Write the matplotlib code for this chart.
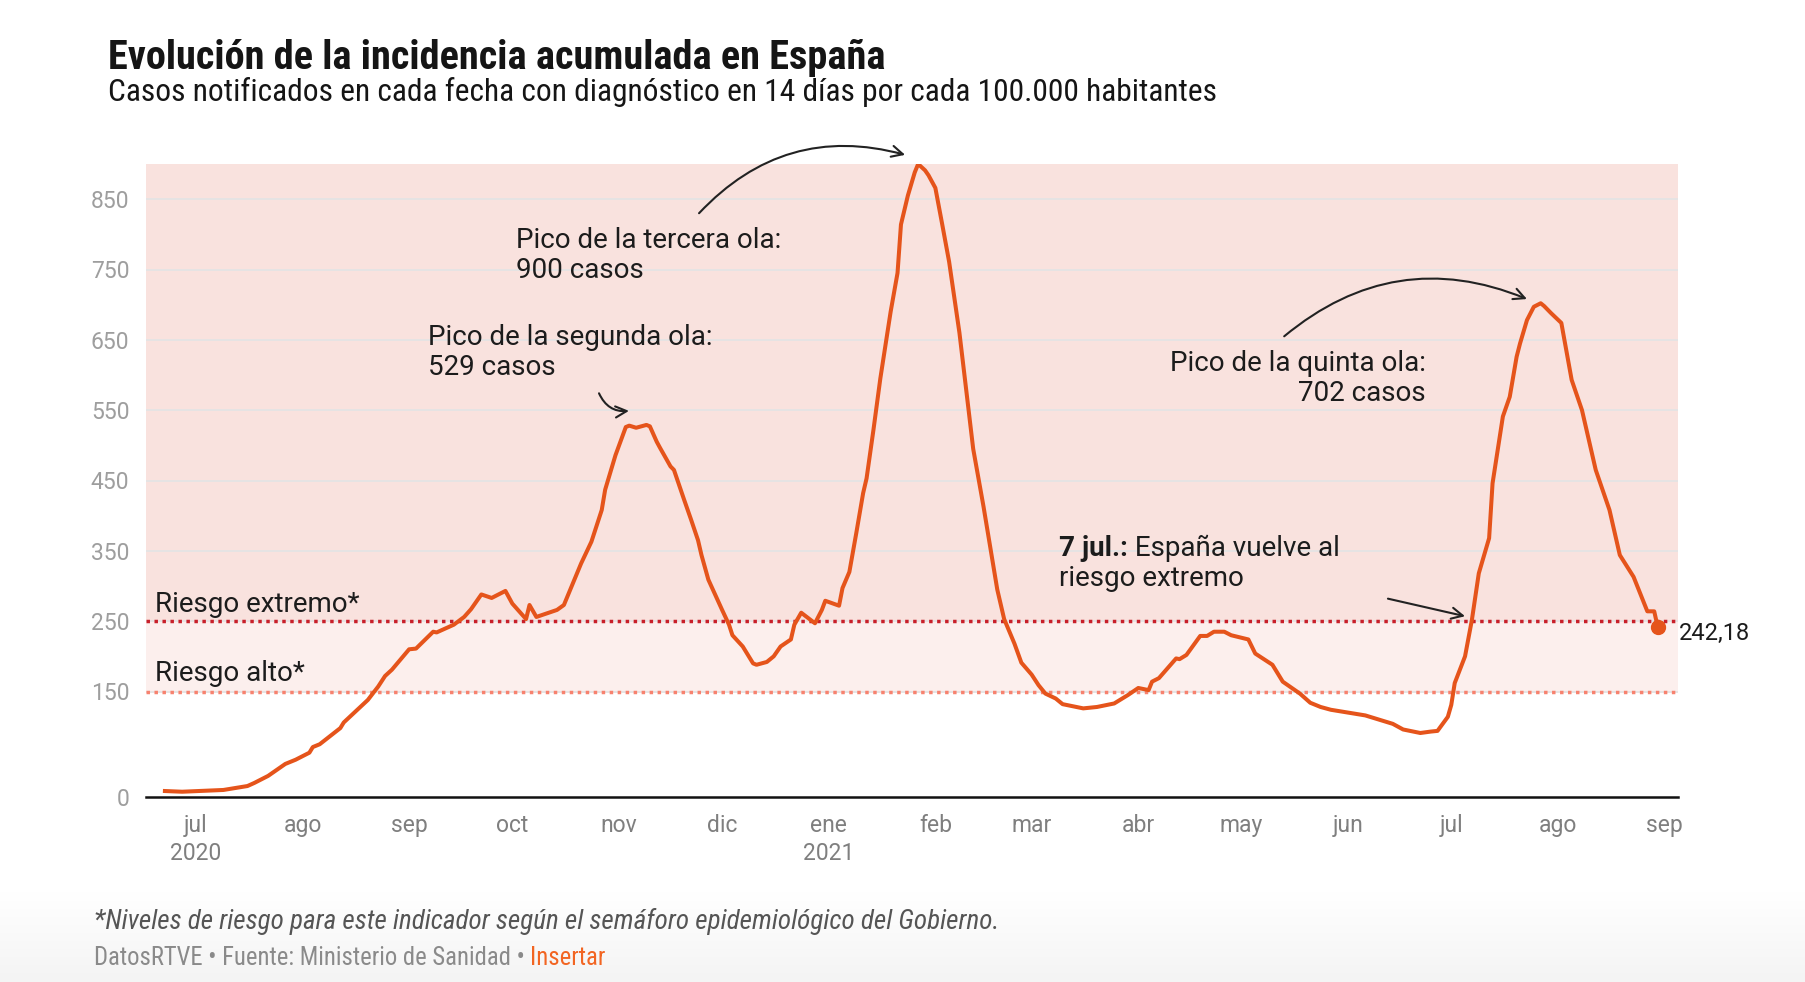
import matplotlib
matplotlib.use("Agg")
import matplotlib.pyplot as plt
import numpy as np
import pandas as pd
from matplotlib import font_manager as fm

# 14-day cumulative incidence per 100.000 inhabitants
dates = [
    "2020-06-22", "2020-06-27", "2020-07-09", "2020-07-16", "2020-07-18", "2020-07-22",
    "2020-07-27", "2020-07-30", "2020-08-01", "2020-08-03", "2020-08-04", "2020-08-06",
    "2020-08-12", "2020-08-13", "2020-08-20", "2020-08-23", "2020-08-25", "2020-08-27",
    "2020-09-01", "2020-09-03", "2020-09-08", "2020-09-09", "2020-09-14", "2020-09-17",
    "2020-09-19", "2020-09-22", "2020-09-25", "2020-09-29", "2020-10-01", "2020-10-05",
    "2020-10-06", "2020-10-08", "2020-10-14", "2020-10-16", "2020-10-21", "2020-10-24",
    "2020-10-27", "2020-10-28", "2020-10-31", "2020-11-03", "2020-11-04", "2020-11-06",
    "2020-11-09", "2020-11-10", "2020-11-12", "2020-11-13", "2020-11-16", "2020-11-17",
    "2020-11-20", "2020-11-22", "2020-11-24", "2020-11-25", "2020-11-27", "2020-12-01",
    "2020-12-03", "2020-12-04", "2020-12-07", "2020-12-10", "2020-12-11", "2020-12-14",
    "2020-12-16", "2020-12-18", "2020-12-21", "2020-12-22", "2020-12-24", "2020-12-28",
    "2020-12-30", "2020-12-31", "2021-01-04", "2021-01-05", "2021-01-07", "2021-01-09",
    "2021-01-11", "2021-01-12", "2021-01-14", "2021-01-16", "2021-01-19", "2021-01-21",
    "2021-01-22", "2021-01-24", "2021-01-26", "2021-01-27", "2021-01-29", "2021-01-30",
    "2021-02-01", "2021-02-03", "2021-02-05", "2021-02-08", "2021-02-10", "2021-02-12",
    "2021-02-15", "2021-02-17", "2021-02-19", "2021-02-21", "2021-02-24", "2021-02-26",
    "2021-03-01", "2021-03-03", "2021-03-05", "2021-03-08", "2021-03-10", "2021-03-16",
    "2021-03-20", "2021-03-25", "2021-03-29", "2021-04-01", "2021-04-04", "2021-04-05",
    "2021-04-07", "2021-04-12", "2021-04-13", "2021-04-15", "2021-04-19", "2021-04-21",
    "2021-04-23", "2021-04-26", "2021-04-28", "2021-05-03", "2021-05-05", "2021-05-10",
    "2021-05-13", "2021-05-18", "2021-05-21", "2021-05-24", "2021-05-27", "2021-06-01",
    "2021-06-06", "2021-06-10", "2021-06-14", "2021-06-17", "2021-06-22", "2021-06-25",
    "2021-06-27", "2021-06-30", "2021-07-01", "2021-07-02", "2021-07-05", "2021-07-07",
    "2021-07-09", "2021-07-12", "2021-07-13", "2021-07-16", "2021-07-18", "2021-07-20",
    "2021-07-21", "2021-07-23", "2021-07-25", "2021-07-27", "2021-07-28", "2021-07-30",
    "2021-08-02", "2021-08-05", "2021-08-08", "2021-08-12", "2021-08-16", "2021-08-19",
    "2021-08-23", "2021-08-27", "2021-08-29", "2021-08-30",
]
incidence = [
    8.5, 7.5, 10, 15.6, 20, 30,
    47, 53, 58, 63, 71, 75,
    98, 106, 138, 157, 172, 181,
    210, 211, 235, 234, 245, 256,
    267, 288, 283, 293, 275, 253,
    273, 256, 266, 273, 332, 363,
    408, 437, 486, 526, 528, 525,
    529, 527, 505, 496, 470, 465,
    422, 394, 365, 344, 309, 266,
    245, 230, 214, 190, 188, 192,
    200, 214, 224, 245, 262, 247,
    266, 279, 272, 297, 320, 375,
    432, 453, 522, 595, 690, 745,
    814, 855, 888, 900, 891, 884,
    866, 814, 761, 660, 578, 495,
    413, 354, 295, 253, 218, 191,
    174, 159, 147, 140, 132, 126,
    128, 133, 145, 155, 152, 164,
    169, 197, 196, 202, 229, 229,
    235, 235, 230, 224, 204, 188,
    164, 147, 134, 128, 124, 120,
    116, 110, 104, 96, 91, 93,
    94, 114, 131, 162, 200, 252,
    318, 368, 446, 541, 569, 626,
    645, 678, 697, 702, 698, 688,
    674, 593, 550, 465, 408, 344,
    313, 264, 264, 242.18,
]

y_ticks = [0, 150, 250, 350, 450, 550, 650, 750, 850]
month_ticks = ["2020-07-01", "2020-08-01", "2020-09-01", "2020-10-01", "2020-11-01",
               "2020-12-01", "2021-01-01", "2021-02-01", "2021-03-01", "2021-04-01",
               "2021-05-01", "2021-06-01", "2021-07-01", "2021-08-01", "2021-09-01"]
month_labels = ["jul\n2020", "ago", "sep", "oct", "nov", "dic", "ene\n2021", "feb",
                "mar", "abr", "may", "jun", "jul", "ago", "sep"]
risk_extreme = 250
risk_high = 150

W, H = 1806, 982
LINE = "#e5541b"
INK = "#1c1c1c"
FS = 20

plt.rcParams["font.family"] = ["Roboto", "DejaVu Sans"]
available = {f.name for f in fm.fontManager.ttflist}
COND = next((n for n in ("Roboto Condensed", "Liberation Sans Narrow") if n in available), "Roboto")

fig = plt.figure(figsize=(W / 100, H / 100), dpi=100)
fig.patch.set_facecolor("white")


def fx(x):
    return x / W


def fy(y):
    return 1 - y / H


# soft grey fade at the bottom
bg = fig.add_axes([0, 0, 1, 90 / H], zorder=-5)
grad = np.linspace(0, 1, 100).reshape(-1, 1)
bg.imshow(grad, aspect="auto", cmap=matplotlib.colors.LinearSegmentedColormap.from_list(
    "fade", ["#f4f4f4", "#ffffff"]), extent=[0, 1, 0, 1], origin="lower")
bg.axis("off")

ax = fig.add_axes([fx(146), fy(797), (1678 - 146) / W, (797 - 164) / H])
ax.set_facecolor("none")

x = pd.to_datetime(dates)
ax.set_xlim(pd.Timestamp("2020-06-16 12:00"), pd.Timestamp("2021-09-04 22:00"))
ax.set_ylim(0, 900)

ax.axhspan(risk_extreme, 900, color="#f9e2de", lw=0, zorder=0)
ax.axhspan(risk_high, risk_extreme, color="#fcefed", lw=0, zorder=0)
for t in y_ticks[1:]:
    ax.axhline(t, color="#e6e4e4", lw=1.4, zorder=1)
ax.axhline(risk_extreme, color="#c8202a", lw=2.5, ls=(0, (1, 1.3)), zorder=2)
ax.axhline(risk_high, color="#f7826f", lw=2.5, ls=(0, (1, 1.3)), zorder=2)

ax.plot(x, incidence, color=LINE, lw=2.9, zorder=3, solid_joinstyle="round")
ax.plot(x[-1], incidence[-1], "o", color=LINE, ms=10, zorder=4)
ax.annotate(f"{incidence[-1]:.2f}".replace(".", ","), xy=(x[-1], incidence[-1]),
            xytext=(15, -5), textcoords="offset points", va="center", ha="left",
            fontsize=17, color=INK, annotation_clip=False)

for s in ("left", "right", "top"):
    ax.spines[s].set_visible(False)
ax.spines["bottom"].set_color("#111111")
ax.spines["bottom"].set_linewidth(1.8)
ax.spines["bottom"].set_zorder(5)

ax.set_yticks(y_ticks)
ax.set_yticklabels([str(v) for v in y_ticks])
ax.tick_params(axis="y", length=0, pad=12, labelsize=16.5, labelcolor="#9e9e9e")
ax.set_xticks(pd.to_datetime(month_ticks))
ax.set_xticklabels(month_labels)
ax.tick_params(axis="x", length=0, pad=12, labelsize=16.5, labelcolor="#7f7f7f")
for lab in ax.get_xticklabels():
    lab.set_linespacing(1.3)

# risk labels
ax.text(pd.Timestamp("2020-06-19"), 273, "Riesgo extremo*", fontsize=FS, color=INK,
        va="center", ha="left", zorder=4)
ax.text(pd.Timestamp("2020-06-19"), 175, "Riesgo alto*", fontsize=FS, color=INK,
        va="center", ha="left", zorder=4)

# annotations
ann = dict(fontsize=FS, color=INK, linespacing=1.15, zorder=4)
ax.text(pd.Timestamp("2020-09-06 12:00"), 632, "Pico de la segunda ola:\n529 casos",
        va="center", ha="left", **ann)
ax.text(pd.Timestamp("2020-10-02"), 770, "Pico de la tercera ola:\n900 casos",
        va="center", ha="left", **ann)
ax.text(pd.Timestamp("2021-06-23 14:00"), 595, "Pico de la quinta ola:\n702 casos",
        va="center", ha="right", multialignment="right", **ann)
t7 = ax.text(pd.Timestamp("2021-03-09"), 354, "7 jul.:", fontsize=FS, color=INK,
             fontweight="bold", va="center", ha="left", zorder=4)
ax.annotate(" España vuelve al", xy=(1, 0), xycoords=t7, va="bottom", ha="left",
            fontsize=FS, color=INK, zorder=4)
ax.text(pd.Timestamp("2021-03-09"), 310, "riesgo extremo", va="center", ha="left",
        fontsize=FS, color=INK, zorder=4)

arrow = dict(arrowstyle="->", color="#222222", lw=1.5, shrinkA=0, shrinkB=0,
             mutation_scale=20)
ax.annotate("", xy=(pd.Timestamp("2020-11-03 22:00"), 549),
            xytext=(pd.Timestamp("2020-10-26 05:00"), 574),
            arrowprops=dict(connectionstyle="arc3,rad=0.35", **arrow), annotation_clip=False)
ax.annotate("", xy=(pd.Timestamp("2021-01-23 05:00"), 913),
            xytext=(pd.Timestamp("2020-11-24 07:00"), 830),
            arrowprops=dict(connectionstyle="arc3,rad=-0.3", **arrow), annotation_clip=False)
ax.annotate("", xy=(pd.Timestamp("2021-07-23"), 708),
            xytext=(pd.Timestamp("2021-05-13 10:00"), 655),
            arrowprops=dict(connectionstyle="arc3,rad=-0.3", **arrow), annotation_clip=False)
ax.annotate("", xy=(pd.Timestamp("2021-07-05"), 257),
            xytext=(pd.Timestamp("2021-06-12 14:00"), 282),
            arrowprops=dict(connectionstyle="arc3,rad=0", **arrow), annotation_clip=False)

# titles and footer
title = fig.text(fx(108), fy(69), "Evolución de la incidencia acumulada en España",
                 fontsize=28, fontweight="bold", family=COND, color="#151515", va="baseline")
sub = fig.text(fx(108), fy(101),
               "Casos notificados en cada fecha con diagnóstico en 14 días por cada 100.000 habitantes",
               fontsize=21, family=COND, color="#151515", va="baseline")
note = fig.text(fx(94), fy(921),
                "*Niveles de riesgo para este indicador según el semáforo epidemiológico del Gobierno.",
                fontsize=17, family=COND, style="italic", color="#555555", va="center")
src = fig.text(fx(94), fy(958), "DatosRTVE • Fuente: Ministerio de Sanidad • ",
               fontsize=15.5, family=COND, color="#8a8a8a", va="center")

renderer = fig.canvas.get_renderer()
for txt, target in ((title, 779), (sub, 1108), (note, 905), (src, 435)):
    w = txt.get_window_extent(renderer).width
    txt.set_fontsize(txt.get_fontsize() * target / w)

fig.canvas.draw()
fig.text(0, 0, "Insertar", fontsize=src.get_fontsize(), family=COND, color="#f26522",
         va="center", transform=matplotlib.transforms.offset_copy(
             fig.transFigure, fig=fig, x=src.get_window_extent(renderer).x1, units="dots"))\
    .set_position((0, fy(958)))

fig.savefig("out.png", dpi=100)
